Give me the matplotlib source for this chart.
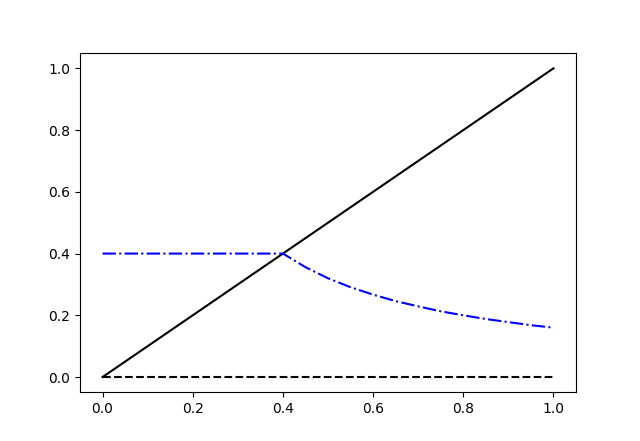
import matplotlib
matplotlib.use("Agg")
import matplotlib.pyplot as plt

# Solid black diagonal
diag_x = [0.0, 1.0]
diag_y = [0.0, 1.0]

# Dashed black baseline
base_x = [0.0, 1.0]
base_y = [0.0, 0.0]

# Blue dash-dot curve
curve_x = [0.0, 0.4, 0.45, 0.5, 0.55, 0.6, 0.65, 0.7, 0.75, 0.8, 0.85, 0.9, 0.95, 1.0]
curve_y = [0.4, 0.4, 0.356, 0.32, 0.291, 0.267, 0.246, 0.229, 0.213, 0.2, 0.188, 0.178, 0.168, 0.16]

fig, ax = plt.subplots(figsize=(6.4, 4.41), dpi=100)
ax.plot(diag_x, diag_y, color="black", linestyle="-")
ax.plot(base_x, base_y, color="black", linestyle="--")
ax.plot(curve_x, curve_y, color="blue", linestyle="-.")
fig.savefig("out.png", dpi=100)
